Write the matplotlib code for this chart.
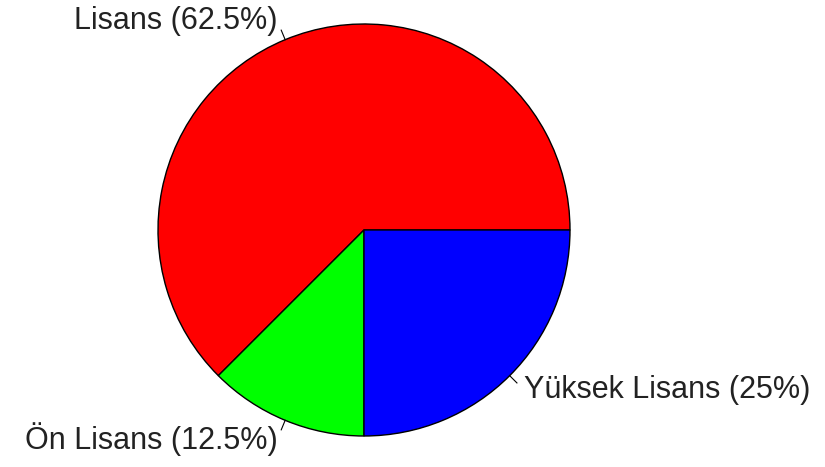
import numpy as np
import matplotlib
matplotlib.use('Agg')
import matplotlib.pyplot as plt

labels = ['Lisans', 'Ön Lisans', 'Yüksek Lisans']
values = [62.5, 12.5, 25]
colors = ['#ff0000', '#00ff00', '#0000ff']
pct_text = ['62.5%', '12.5%', '25%']

plt.rcParams['font.family'] = ['Liberation Sans', 'DejaVu Sans']

fig = plt.figure(figsize=(8.25, 4.67), dpi=100)
ax = fig.add_axes([0, 0, 1, 1])

cx, cy, r = 364, 467 - 230, 206
wedges, _ = ax.pie(values, colors=colors, startangle=0, counterclock=True,
                   center=(cx, cy), radius=r,
                   wedgeprops=dict(edgecolor='black', linewidth=1))
ax.set_xlim(0, 825)
ax.set_ylim(0, 467)
ax.set_aspect('equal')
ax.axis('off')

# R-style labels: short tick then text
for w, lab, p in zip(wedges, labels, pct_text):
    ang = np.deg2rad((w.theta1 + w.theta2) / 2)
    c, s = np.cos(ang), np.sin(ang)
    ax.plot([cx + r * c, cx + 1.05 * r * c], [cy + r * s, cy + 1.05 * r * s],
            color='black', lw=0.8)
    ax.text(cx + 1.1 * r * c, cy + 1.1 * r * s, f'{lab} ({p})',
            ha='left' if c > 0 else 'right', va='center',
            fontsize=22, color='#222222')

fig.savefig('out.png', dpi=100)
